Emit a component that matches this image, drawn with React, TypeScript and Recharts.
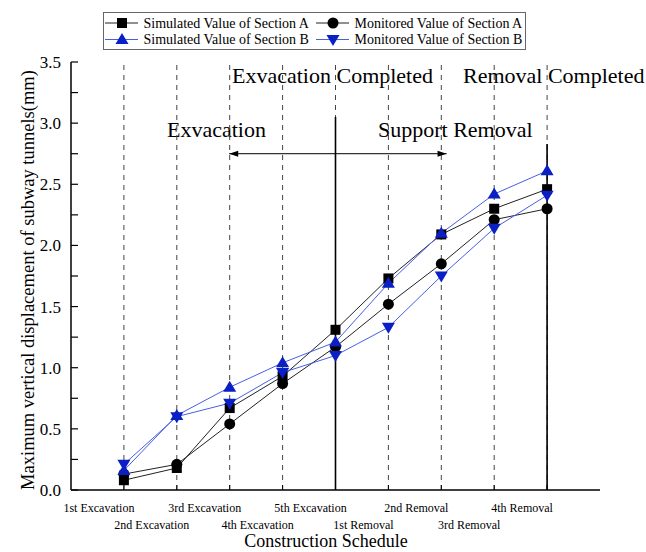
import {Legend, Line, LineChart, ReferenceLine, XAxis, YAxis} from 'recharts';

const categories = [
    '1st Excavation', '2nd Excavation', '3rd Excavation', '4th Excavation', '5th Excavation',
    '1st Removal', '2nd Removal', '3rd Removal', '4th Removal'
];
const steps = [1, 2, 3, 4, 5, 6, 7, 8, 9];
const simulatedA = [0.08, 0.18, 0.67, 0.93, 1.31, 1.73, 2.09, 2.30, 2.46];
const monitoredA = [0.13, 0.21, 0.54, 0.87, 1.17, 1.52, 1.85, 2.21, 2.30];
const simulatedB = [0.16, 0.61, 0.84, 1.04, 1.21, 1.69, 2.10, 2.42, 2.61];
const monitoredB = [0.21, 0.60, 0.71, 0.96, 1.10, 1.33, 1.75, 2.14, 2.41];
const yTicks = [0, 0.25, 0.5, 0.75, 1, 1.25, 1.5, 1.75, 2, 2.25, 2.5, 2.75, 3, 3.25, 3.5];

const FONT = '"Liberation Serif", "Times New Roman", serif';
const BLACK = '#000000';
const BLUE_LINE = '#4860e0';
const BLUE_MARK = '#0a1fc4';
const PLOT_LEFT = 71;
const PLOT_BOTTOM = 490;

const data = steps.map((step, i) => ({
    step,
    simA: simulatedA[i],
    monA: monitoredA[i],
    simB: simulatedB[i],
    monB: monitoredB[i]
}));

const Square = ({cx, cy}: any) => <rect x={cx - 5} y={cy - 5} width={10} height={10} fill={BLACK}/>;
const Circle = ({cx, cy}: any) => <circle cx={cx} cy={cy} r={5.5} fill={BLACK}/>;
const UpTri = ({cx, cy}: any) => (
    <polygon points={`${cx},${cy - 6.5} ${cx + 6.5},${cy + 4.5} ${cx - 6.5},${cy + 4.5}`} fill={BLUE_MARK}/>
);
const DownTri = ({cx, cy}: any) => (
    <polygon points={`${cx},${cy + 6.5} ${cx + 6.5},${cy - 4.5} ${cx - 6.5},${cy - 4.5}`} fill={BLUE_MARK}/>
);

const XTick = ({x, payload}: any) => {
    const idx = steps.indexOf(payload.value);
    const lower = idx % 2 === 1;
    return (
        <g>
            <line x1={x} x2={x} y1={PLOT_BOTTOM} y2={PLOT_BOTTOM - 5} stroke={BLACK}/>
            <text x={x - 25} y={lower ? 529 : 512} textAnchor="middle" fontSize={12}
                  style={{fontFamily: FONT}} fill={BLACK}>
                {categories[idx]}
            </text>
        </g>
    );
};

const YTick = ({y, payload}: any) => {
    const major = Math.abs(payload.value * 2 - Math.round(payload.value * 2)) < 1e-6;
    return (
        <g>
            <line x1={PLOT_LEFT} x2={PLOT_LEFT + 7} y1={y} y2={y} stroke={BLACK} strokeWidth={1.2}/>
            {major && (
                <text x={61} y={y + 6} textAnchor="end" fontSize={17} style={{fontFamily: FONT}} fill={BLACK}>
                    {payload.value.toFixed(1)}
                </text>
            )}
        </g>
    );
};

const ArrowShape = (props: any) => {
    const {x1, y1, x2, y2} = props;
    return (
        <g>
            <line x1={x1} y1={y1} x2={x2} y2={y2} stroke={BLACK} strokeWidth={1}/>
            <polygon points={`${x1},${y1} ${x1 + 9},${y1 - 3} ${x1 + 9},${y1 + 3}`} fill={BLACK}/>
            <polygon points={`${x2},${y2} ${x2 - 9},${y2 - 3} ${x2 - 9},${y2 + 3}`} fill={BLACK}/>
        </g>
    );
};

const legendItems = [
    {name: 'Simulated Value of Section A', color: '#222', marker: Square, x: 0, row: 0},
    {name: 'Monitored Value of Section A', color: '#222', marker: Circle, x: 211, row: 0},
    {name: 'Simulated Value of Section B', color: BLUE_LINE, marker: UpTri, x: 0, row: 1},
    {name: 'Monitored Value of Section B', color: BLUE_LINE, marker: DownTri, x: 211, row: 1}
];

const LegendBox = () => (
    <svg width={423} height={38} style={{display: 'block'}}>
        <rect x={0.5} y={0.5} width={422} height={37} fill="#fff" stroke="#666" strokeWidth={1}/>
        {legendItems.map(item => {
            const cy = item.row === 0 ? 11 : 27.5;
            const M = item.marker;
            return (
                <g key={item.name}>
                    <line x1={item.x + 2} x2={item.x + 35} y1={cy} y2={cy} stroke={item.color} strokeWidth={1}/>
                    <M cx={item.x + 19} cy={cy}/>
                    <text x={item.x + 40.5} y={cy + 4.5} fontSize={14} style={{fontFamily: FONT}} fill={BLACK}>
                        {item.name}
                    </text>
                </g>
            );
        })}
    </svg>
);

const textStyle = {fontFamily: FONT};

export default function App() {
    return (
        <div style={{position: 'absolute', left: 0, top: 0, background: '#fff', fontFamily: FONT}}>
            <LineChart width={646} height={552} data={data} margin={{top: 62, right: 46, bottom: 0, left: 0}}>
                <XAxis type="number" dataKey="step" domain={[0, 10]} ticks={steps} interval={0}
                       height={62} tickLine={false} tick={<XTick/>}
                       axisLine={{stroke: BLACK, strokeWidth: 1.5}}/>
                <YAxis type="number" domain={[0, 3.5]} ticks={yTicks} interval={0} width={71}
                       tickLine={false} tick={<YTick/>}
                       axisLine={{stroke: BLACK, strokeWidth: 1.5}}/>
                {steps.map(s => (
                    <ReferenceLine key={s} x={s} stroke="#444" strokeDasharray="5 5" strokeWidth={1}/>
                ))}
                <ReferenceLine segment={[{x: 5, y: 3.05}, {x: 5, y: 0}]} stroke={BLACK} strokeWidth={1.6}/>
                <ReferenceLine segment={[{x: 9, y: 2.83}, {x: 9, y: 0}]} stroke={BLACK} strokeWidth={1.6}/>
                <ReferenceLine segment={[{x: 2.99, y: 2.75}, {x: 7.1, y: 2.75}]} shape={<ArrowShape/>}/>
                <text x={232} y={83} fontSize={22} style={textStyle} fill={BLACK}>Exvacation Completed</text>
                <text x={463} y={83} fontSize={22} style={textStyle} fill={BLACK}>Removal Completed</text>
                <text x={167} y={137} fontSize={22} style={textStyle} fill={BLACK}>Exvacation</text>
                <text x={378} y={137} fontSize={22} style={textStyle} fill={BLACK}>Support Removal</text>
                <text x={326} y={547} fontSize={18} textAnchor="middle" style={textStyle} fill={BLACK}>
                    Construction Schedule
                </text>
                <text transform="rotate(-90)" x={-280} y={28} fontSize={18.5} textAnchor="middle"
                      dominantBaseline="central" style={textStyle} fill={BLACK}>
                    Maximum vertical displacement of subway tunnels(mm)
                </text>
                <Legend layout="horizontal" verticalAlign="middle" align="center"
                        wrapperStyle={{position: 'absolute', left: 103, top: 12, width: 423, height: 38}}
                        content={() => <LegendBox/>}/>
                <Line type="linear" dataKey="simA" stroke="#222" strokeWidth={1} dot={<Square/>}
                      activeDot={false} isAnimationActive={false}/>
                <Line type="linear" dataKey="monA" stroke="#222" strokeWidth={1} dot={<Circle/>}
                      activeDot={false} isAnimationActive={false}/>
                <Line type="linear" dataKey="simB" stroke={BLUE_LINE} strokeWidth={1} dot={<UpTri/>}
                      activeDot={false} isAnimationActive={false}/>
                <Line type="linear" dataKey="monB" stroke={BLUE_LINE} strokeWidth={1} dot={<DownTri/>}
                      activeDot={false} isAnimationActive={false}/>
            </LineChart>
        </div>
    );
}
